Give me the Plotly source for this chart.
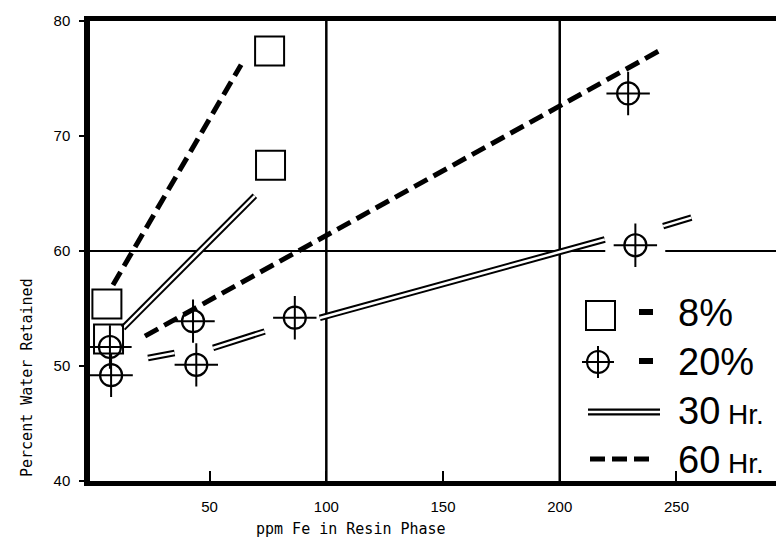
import plotly.graph_objects as go

# ---------------- data ----------------
# 8 % crosslinked resin (open squares)
sq8_x = [75.7, 76.1, 6.0, 6.7]
sq8_y = [77.4, 67.45, 55.4, 52.35]
# 20 % crosslinked resin (circle with cross)
c20_x = [7.3, 7.8, 42.9, 44.3, 86.5, 229.3, 232.4]
c20_y = [51.65, 49.2, 53.9, 50.1, 54.2, 73.7, 60.5]

# hand drawn trend lines (None = gap in the drawn line)
l8_30_x = [12.9, 69.4]
l8_30_y = [53.3, 64.8]
l8_60_x = [8.6, 63.5]
l8_60_y = [57.05, 76.2]
l20_30_x = [23.6, 35.0, None, 51.5, 73.6, None, 97.2, 219.3, None, 244.3, 256.4]
l20_30_y = [50.7, 51.13, None, 51.57, 53.0, None, 54.18, 61.0, None, 62.16, 62.9]
l20_60_x = [22.3, 243.4]
l20_60_y = [52.6, 77.5]

x_ticks = [50, 100, 150, 200, 250]
y_ticks = [40, 50, 60, 70, 80]
grid_x = [100, 200]
grid_y = [60]
grid_y_gap = [219.5, 245.2]

legend_labels = ["8%", "20%", "30", "60"]

# ---------------- layout geometry ----------------
W, H = 784, 537
ML, MR, MT, MB = 82, 0, 13, 64
X_RANGE = [-1.24, 299.5]
Y_RANGE = [40, 80]
PW, PH = W - ML - MR, H - MT - MB


def px(xp):
    return (xp - ML) / PW


def py(yp):
    return (H - MB - yp) / PH


DASH = "15px,7px"
fig = go.Figure()


def double_line(x, y, name):
    fig.add_trace(go.Scatter(x=x, y=y, mode="lines", connectgaps=False,
                             line=dict(color="black", width=6.5), name=name,
                             showlegend=False, hoverinfo="skip"))
    fig.add_trace(go.Scatter(x=x, y=y, mode="lines", connectgaps=False,
                             line=dict(color="white", width=2.5), name=name,
                             showlegend=False, hoverinfo="skip"))


double_line(l8_30_x, l8_30_y, "8% 30 Hr.")
double_line(l20_30_x, l20_30_y, "20% 30 Hr.")
for xs, ys, nm in [(l8_60_x, l8_60_y, "8% 60 Hr."), (l20_60_x, l20_60_y, "20% 60 Hr.")]:
    fig.add_trace(go.Scatter(x=xs, y=ys, mode="lines", name=nm, showlegend=False,
                             line=dict(color="black", width=5, dash=DASH)))

fig.add_trace(go.Scatter(x=sq8_x, y=sq8_y, mode="markers", name="8%", showlegend=False,
                         marker=dict(symbol="square-open", size=29, color="black",
                                     line=dict(width=2, color="black"))))
fig.add_trace(go.Scatter(x=c20_x, y=c20_y, mode="markers", name="20%", showlegend=False,
                         marker=dict(symbol="circle-open", size=22, color="black",
                                     line=dict(width=2.2, color="black"))))
fig.add_trace(go.Scatter(x=c20_x, y=c20_y, mode="markers", name="20%", showlegend=False,
                         hoverinfo="skip",
                         marker=dict(symbol="cross-thin-open", size=31, color="black",
                                     line=dict(width=2, color="black"))))

shapes = []
for gx in grid_x:
    shapes.append(dict(type="line", xref="x", yref="paper", x0=gx, x1=gx, y0=0, y1=1,
                       line=dict(color="black", width=2.5), layer="below"))
for gy in grid_y:
    shapes.append(dict(type="line", xref="x", yref="y", x0=X_RANGE[0], x1=grid_y_gap[0],
                       y0=gy, y1=gy, line=dict(color="black", width=2.2), layer="below"))
    shapes.append(dict(type="line", xref="x", yref="y", x0=grid_y_gap[1], x1=X_RANGE[1],
                       y0=gy, y1=gy, line=dict(color="black", width=2.2), layer="below"))

# ---------------- hand-made legend ----------------
# square
shapes.append(dict(type="rect", xref="paper", yref="paper", x0=px(578), x1=px(607),
                   y0=py(322), y1=py(293), line=dict(color="black", width=2)))
# circle with cross
shapes.append(dict(type="circle", xref="paper", yref="paper", x0=px(579), x1=px(601),
                   y0=py(365), y1=py(343), line=dict(color="black", width=2)))
shapes.append(dict(type="line", xref="paper", yref="paper", x0=px(574), x1=px(606),
                   y0=py(354), y1=py(354), line=dict(color="black", width=2)))
shapes.append(dict(type="line", xref="paper", yref="paper", x0=px(590), x1=px(590),
                   y0=py(338), y1=py(370), line=dict(color="black", width=2)))
# '=' bars
for yy in (304, 353):
    shapes.append(dict(type="rect", xref="paper", yref="paper", x0=px(631), x1=px(645),
                       y0=py(yy + 3), y1=py(yy - 3), fillcolor="black",
                       line=dict(width=0)))
# double line
shapes.append(dict(type="line", xref="paper", yref="paper", x0=px(580), x1=px(652),
                   y0=py(404), y1=py(404), line=dict(color="black", width=7)))
shapes.append(dict(type="line", xref="paper", yref="paper", x0=px(580), x1=px(652),
                   y0=py(404), y1=py(404), line=dict(color="white", width=2.6)))
# dashed line
shapes.append(dict(type="line", xref="paper", yref="paper", x0=px(582), x1=px(648),
                   y0=py(451), y1=py(451), line=dict(color="black", width=5, dash=DASH)))
# small marks at right edge
shapes.append(dict(type="line", xref="paper", yref="paper", x0=px(773), x1=1,
                   y0=py(124), y1=py(124), line=dict(color="black", width=2)))
shapes.append(dict(type="line", xref="paper", yref="paper", x0=px(778), x1=1,
                   y0=py(355), y1=py(355), line=dict(color="black", width=2)))

LEG_FONT = dict(family="Liberation Sans, Arial, sans-serif", size=38, color="black")
annotations = []
for lab, yy in zip(legend_labels, (305, 354, 403, 452)):
    txt = lab if "%" in lab else lab + "<span style='font-size:28px'> Hr.</span>"
    annotations.append(dict(xref="paper", yref="paper", x=px(668), y=py(yy), text=txt,
                            showarrow=False, xanchor="left", yanchor="middle",
                            font=LEG_FONT))

MONO = dict(family="DejaVu Sans Mono, monospace", size=15, color="black")
annotations.append(dict(xref="paper", yref="paper", x=px(19), y=py(370),
                        text="Percent Water Retained", textangle=-90, showarrow=False,
                        xanchor="center", yanchor="middle", font=MONO))
annotations.append(dict(xref="paper", yref="paper", x=px(343), y=py(521),
                        text="ppm Fe in Resin Phase", showarrow=False,
                        xanchor="center", yanchor="middle", font=MONO))

TICK_FONT = dict(family="Liberation Sans, Arial, sans-serif", size=15, color="black")
fig.update_layout(
    width=W, height=H,
    margin=dict(l=ML, r=MR, t=MT, b=MB, pad=0),
    paper_bgcolor="white", plot_bgcolor="white",
    showlegend=False,
    shapes=shapes, annotations=annotations,
    xaxis=dict(range=X_RANGE, tickvals=x_ticks, ticktext=[str(v) for v in x_ticks],
               showgrid=False, zeroline=False, showline=True, linecolor="black",
               linewidth=4.5, mirror=True, ticks="inside", ticklen=10, tickwidth=2,
               tickcolor="black", tickfont=TICK_FONT, ticklabelstandoff=8),
    yaxis=dict(range=Y_RANGE, tickvals=y_ticks, ticktext=[str(v) for v in y_ticks],
               showgrid=False, zeroline=False, showline=True, linecolor="black",
               linewidth=5.5, mirror=False, ticks="outside", ticklen=5, tickwidth=2,
               tickcolor="black", tickfont=TICK_FONT, ticklabelstandoff=6),
)

fig.write_html("out.html")
